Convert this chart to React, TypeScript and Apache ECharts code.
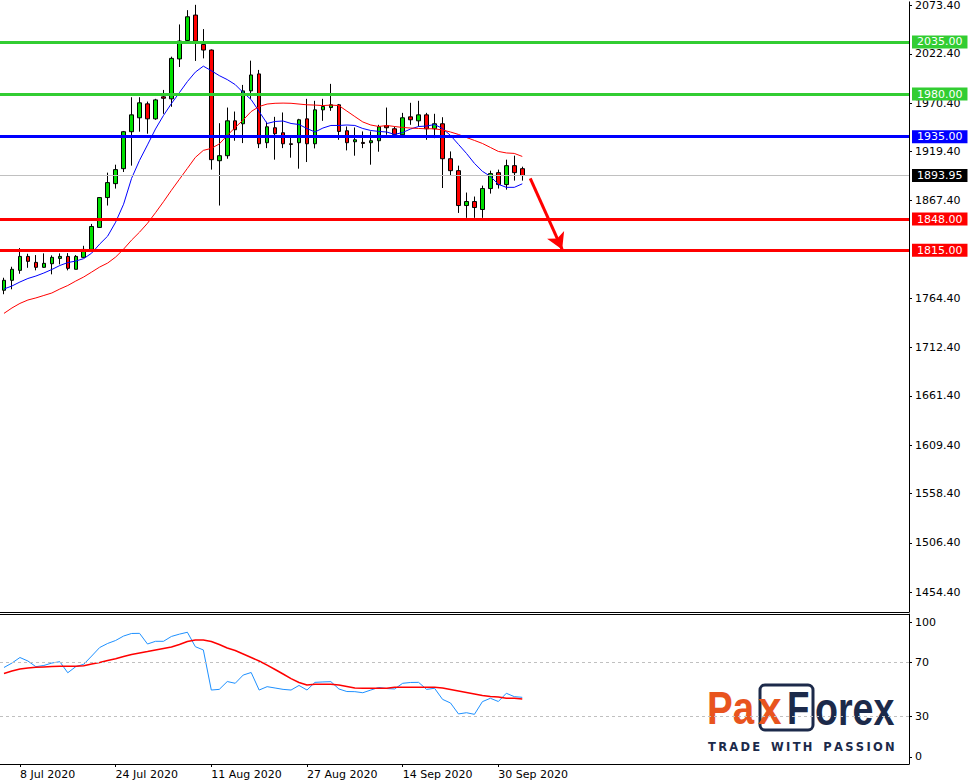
import React, { useEffect, useRef } from "react";
import * as echarts from "echarts";

// ---------- DATA ----------
const tradingDays = [
  "6 Jul 2020", "7 Jul 2020", "8 Jul 2020", "9 Jul 2020", "10 Jul 2020",
  "13 Jul 2020", "14 Jul 2020", "15 Jul 2020", "16 Jul 2020", "17 Jul 2020",
  "20 Jul 2020", "21 Jul 2020", "22 Jul 2020", "23 Jul 2020", "24 Jul 2020",
  "27 Jul 2020", "28 Jul 2020", "29 Jul 2020", "30 Jul 2020", "31 Jul 2020",
  "3 Aug 2020", "4 Aug 2020", "5 Aug 2020", "6 Aug 2020", "7 Aug 2020",
  "10 Aug 2020", "11 Aug 2020", "12 Aug 2020", "13 Aug 2020", "14 Aug 2020",
  "17 Aug 2020", "18 Aug 2020", "19 Aug 2020", "20 Aug 2020", "21 Aug 2020",
  "24 Aug 2020", "25 Aug 2020", "26 Aug 2020", "27 Aug 2020", "28 Aug 2020",
  "31 Aug 2020", "1 Sep 2020", "2 Sep 2020", "3 Sep 2020", "4 Sep 2020",
  "7 Sep 2020", "8 Sep 2020", "9 Sep 2020", "10 Sep 2020", "11 Sep 2020",
  "14 Sep 2020", "15 Sep 2020", "16 Sep 2020", "17 Sep 2020", "18 Sep 2020",
  "21 Sep 2020", "22 Sep 2020", "23 Sep 2020", "24 Sep 2020", "25 Sep 2020",
  "28 Sep 2020", "29 Sep 2020", "30 Sep 2020", "1 Oct 2020", "2 Oct 2020",
  "5 Oct 2020",
];
const dateLabels = ["8 Jul 2020", "24 Jul 2020", "11 Aug 2020", "27 Aug 2020", "14 Sep 2020", "30 Sep 2020"];

const opens = [
  1772.9, 1783.4, 1793.9, 1808.6, 1802.3, 1797.1, 1800.9, 1806.5, 1808.6, 1795.0,
  1807.6, 1816.0, 1839.2, 1870.7, 1885.4, 1901.2, 1940.2, 1954.9, 1969.6, 1953.8,
  1977.0, 1974.9, 2017.0, 2036.5, 2063.3, 2032.3, 2026.4, 1909.6, 1914.9, 1951.7,
  1948.6, 1983.3, 2001.2, 1928.6, 1944.4, 1939.1, 1927.5, 1928.6, 1953.8, 1927.5,
  1963.3, 1965.7, 1968.6, 1941.2, 1929.6, 1928.9, 1928.6, 1930.7, 1946.5, 1943.3,
  1937.0, 1955.9, 1951.7, 1958.0, 1943.3, 1948.6, 1911.7, 1899.1, 1862.3, 1866.5,
  1858.1, 1880.2, 1897.0, 1884.4, 1904.4, 1901.2,
];
const closes = [
  1783.4, 1795.0, 1808.6, 1803.4, 1797.1, 1801.3, 1807.6, 1808.6, 1796.0, 1808.6,
  1816.0, 1840.2, 1870.7, 1886.5, 1900.2, 1940.2, 1958.0, 1970.7, 1953.8, 1973.8,
  1975.5, 2017.6, 2035.9, 2061.5, 2035.9, 2026.4, 1910.7, 1914.9, 1951.7, 1942.3,
  1983.3, 2000.1, 1927.5, 1945.4, 1938.1, 1927.5, 1926.8, 1952.8, 1927.5, 1963.3,
  1966.8, 1968.6, 1940.5, 1928.6, 1931.7, 1927.8, 1930.7, 1945.4, 1944.4, 1937.3,
  1954.9, 1952.8, 1958.0, 1943.3, 1948.6, 1911.7, 1899.1, 1862.3, 1866.5, 1860.2,
  1880.2, 1896.0, 1884.4, 1904.4, 1897.0, 1893.95,
];
const lows = [
  1768.7, 1773.9, 1790.3, 1796.6, 1793.9, 1796.6, 1789.7, 1800.2, 1793.9, 1795.0,
  1807.4, 1816.0, 1838.9, 1862.3, 1880.2, 1897.7, 1904.4, 1940.2, 1938.1, 1952.8,
  1959.1, 1966.5, 2008.5, 2035.9, 2014.9, 2017.6, 1900.2, 1862.3, 1911.7, 1930.7,
  1928.2, 1974.9, 1922.9, 1922.9, 1910.7, 1922.9, 1912.8, 1901.2, 1908.2, 1922.6,
  1951.7, 1962.2, 1931.7, 1920.5, 1914.9, 1922.9, 1905.4, 1919.1, 1937.0, 1935.9,
  1937.0, 1947.5, 1945.7, 1931.7, 1933.4, 1880.8, 1893.9, 1854.5, 1849.3, 1849.3,
  1849.3, 1874.9, 1880.2, 1879.1, 1888.6, 1888.6,
];
const highs = [
  1786.1, 1797.7, 1817.4, 1811.4, 1810.0, 1811.8, 1809.7, 1811.8, 1812.1, 1810.0,
  1819.8, 1842.9, 1871.0, 1897.0, 1905.4, 1941.0, 1976.6, 1976.6, 1972.0, 1974.9,
  1984.3, 2019.4, 2053.4, 2068.5, 2074.1, 2048.5, 2027.0, 1949.2, 1965.7, 1961.5,
  1989.6, 2015.2, 2005.4, 1950.7, 1955.9, 1960.5, 1935.9, 1953.8, 1974.9, 1972.8,
  1974.9, 1990.7, 1969.5, 1945.7, 1944.7, 1940.5, 1940.5, 1947.5, 1965.7, 1945.7,
  1960.1, 1970.7, 1972.8, 1960.1, 1959.1, 1955.5, 1919.4, 1904.4, 1876.0, 1871.8,
  1883.3, 1899.1, 1900.2, 1910.7, 1914.9, 1903.3,
];
const maFast = [
  1774.2, 1777.4, 1781.6, 1785.3, 1787.9, 1791.1, 1794.8, 1799.0, 1802.1, 1803.7,
  1806.3, 1812.1, 1821.6, 1830.0, 1844.7, 1863.7, 1891.0, 1910.0, 1926.3, 1943.1,
  1957.3, 1969.9, 1981.5, 1993.1, 2003.1, 2009.4, 2004.6, 1999.4, 1995.2, 1989.9,
  1981.5, 1974.1, 1961.5, 1948.9, 1951.0, 1951.5, 1948.9, 1947.8, 1943.6, 1939.9,
  1944.1, 1946.8, 1946.8, 1947.3, 1946.8, 1943.6, 1941.5, 1940.5, 1939.9, 1937.3,
  1939.4, 1943.1, 1945.7, 1946.2, 1947.8, 1943.6, 1936.3, 1926.8, 1917.3, 1906.8,
  1898.4, 1893.1, 1884.7, 1881.5, 1881.5, 1885.2,
];
const maSlow = [
  1748.5, 1754.2, 1759.0, 1762.6, 1764.8, 1767.4, 1770.0, 1774.2, 1777.9, 1782.6,
  1786.9, 1792.1, 1797.4, 1801.6, 1807.9, 1816.3, 1825.8, 1834.2, 1843.6, 1854.7,
  1866.3, 1878.4, 1890.0, 1901.5, 1913.1, 1920.5, 1922.6, 1927.3, 1936.3, 1944.7,
  1952.6, 1961.5, 1966.8, 1969.4, 1970.2, 1970.4, 1970.2, 1969.4, 1968.6, 1968.3,
  1967.8, 1968.3, 1967.8, 1962.0, 1956.2, 1950.5, 1947.3, 1945.7, 1946.8, 1945.7,
  1944.7, 1944.1, 1943.6, 1943.3, 1943.3, 1942.0, 1939.9, 1937.3, 1934.1, 1931.0,
  1927.8, 1923.6, 1919.4, 1917.8, 1917.3, 1914.1,
];
const rsi = [
  66.3, 69.6, 73.7, 71.1, 66.9, 67.8, 69.6, 70.6, 62.4, 66.9,
  68.7, 74.8, 81.1, 84.1, 86.3, 89.6, 91.5, 91.6, 83.7, 85.7,
  85.7, 89.3, 91.0, 92.4, 81.7, 79.3, 49.6, 50.1, 55.9, 54.6,
  60.7, 62.6, 49.6, 52.1, 51.1, 50.1, 49.6, 53.0, 49.6, 55.3,
  55.6, 55.8, 50.4, 48.5, 48.4, 47.6, 49.6, 51.5, 50.7, 50.4,
  54.6, 55.2, 55.3, 50.1, 50.9, 42.7, 40.0, 31.9, 32.8, 31.6,
  41.0, 43.5, 41.1, 47.2, 44.7, 44.2,
];
const rsiSignal = [
  61.9, 63.7, 65.2, 65.9, 66.4, 66.7, 67.0, 67.2, 67.2, 67.3,
  67.6, 68.9, 70.0, 71.5, 72.8, 74.4, 75.9, 77.0, 78.1, 79.3,
  80.4, 81.5, 83.3, 85.6, 86.7, 86.7, 85.6, 83.3, 80.7, 78.9,
  76.3, 73.7, 71.1, 68.1, 64.8, 61.5, 58.1, 55.2, 53.3, 53.9,
  53.9, 53.9, 53.3, 52.2, 51.1, 50.9, 50.9, 50.9, 50.9, 51.6,
  51.6, 51.6, 51.6, 51.6, 51.6, 51.1, 50.0, 48.9, 47.8, 46.7,
  45.6, 44.8, 44.4, 43.5, 43.5, 43.0,
];
const priceTicks = [2073.4, 2022.4, 1970.4, 1919.4, 1867.4, 1764.4, 1712.4, 1661.4, 1609.4, 1558.4, 1506.4, 1454.4];
const rsiTicks = [0, 30, 70, 100];
const rsiLevels = [70, 30];
const levelValues = [2035, 1980, 1935, 1848, 1815];
const levelKinds = ["resistance", "resistance", "pivot", "support", "support"];
const lastPrice = 1893.95;
const arrowFrom = [66, 1891];
const arrowTo = [70, 1816];
const TOTAL_SLOTS = 114;

// ---------- CHART ----------
const FONT = "DejaVu Sans";
const kindColor: Record<string, string> = { resistance: "#32CD32", pivot: "#0000FF", support: "#FF0000" };

export default function App() {
  const ref = useRef<HTMLDivElement>(null);
  useEffect(() => {
    document.body.style.margin = "0";
    if (!ref.current) return;
    const chart = echarts.init(ref.current, undefined, { renderer: "svg" });

    const categories = tradingDays.slice();
    for (let i = tradingDays.length; i < TOTAL_SLOTS; i++) categories.push(`slot-${i}`);
    const showDate = (_i: number, v: string) => dateLabels.indexOf(v) >= 0;
    const candles = opens.map((o, i) => [o, closes[i], lows[i], highs[i]]);

    const levelLines = levelValues.map((v, i) => {
      const c = kindColor[levelKinds[i]];
      return {
        yAxis: v,
        lineStyle: { color: c, width: 3, type: "solid" },
        label: {
          show: true, position: "end", distance: 3, formatter: () => v.toFixed(2),
          color: "#fff", backgroundColor: c, padding: [1, 5, 0, 5], fontSize: 11, lineHeight: 12, fontFamily: FONT,
        },
      };
    });

    const navy = "#1C2A4A";
    const orange = "#E8541E";
    const logoFont = 'bold 47px "Liberation Sans"';
    const tagline = "TRADE WITH PASSION".split(" ").map((w) => w.split("").join("\u2009")).join("\u2009 \u2009\u2009");
    const txt = (text: string, x: number, fill: string, sx: number) => ({
      type: "text", x, y: 708, scaleX: sx,
      style: { text, fill, font: logoFont, align: "left", verticalAlign: "middle", textAlign: "left", textVerticalAlign: "middle" },
    });

    const option: any = {
      animation: false,
      backgroundColor: "#fff",
      textStyle: { fontFamily: FONT },
      grid: [
        { left: -3, right: 65, top: 0, height: 612 },
        { left: -3, right: 65, top: 614, height: 150 },
      ],
      xAxis: [
        {
          type: "category", gridIndex: 0, data: categories, boundaryGap: true,
          axisLine: { show: true, onZero: false, lineStyle: { color: "#000", width: 1 } },
          axisTick: { show: false }, axisLabel: { show: false }, splitLine: { show: false },
        },
        {
          type: "category", gridIndex: 1, data: categories, boundaryGap: true,
          axisLine: { show: true, onZero: false, lineStyle: { color: "#000", width: 1 } },
          axisTick: { show: true, alignWithLabel: true, interval: showDate, length: 3, lineStyle: { color: "#000" } },
          axisLabel: { interval: showDate, align: "left", color: "#000", fontSize: 11, margin: 5, fontFamily: FONT },
          splitLine: { show: false },
        },
        {
          type: "category", gridIndex: 1, data: categories, position: "top", boundaryGap: true,
          axisLine: { show: true, onZero: false, lineStyle: { color: "#000", width: 1 } },
          axisTick: { show: false }, axisLabel: { show: false }, splitLine: { show: false },
        },
      ],
      yAxis: [
        {
          type: "value", gridIndex: 0, position: "right", min: 1433.35, max: 2077.24, scale: true,
          axisLine: { show: true, lineStyle: { color: "#000", width: 1 } },
          axisTick: { show: true, inside: false, length: 3, customValues: priceTicks, lineStyle: { color: "#000" } },
          axisLabel: { customValues: priceTicks, formatter: (v: number) => v.toFixed(2), color: "#000", fontSize: 11, margin: 6, fontFamily: FONT },
          splitLine: { show: false },
        },
        {
          type: "value", gridIndex: 1, position: "right", min: -5.19, max: 105.93,
          axisLine: { show: true, lineStyle: { color: "#000", width: 1 } },
          axisTick: { show: true, inside: false, length: 3, customValues: rsiTicks, lineStyle: { color: "#000" } },
          axisLabel: { customValues: rsiTicks, formatter: (v: number) => String(Math.round(v)), color: "#000", fontSize: 11, margin: 6, fontFamily: FONT },
          splitLine: { show: false },
        },
      ],
      series: [
        {
          type: "candlestick", xAxisIndex: 0, yAxisIndex: 0, data: candles, barWidth: 4,
          itemStyle: { color: "#00E000", color0: "#FF0000", borderColor: "#000", borderColor0: "#000", borderWidth: 1 },
          markLine: {
            silent: true, symbol: ["none", "none"], animation: false,
            data: [{
              yAxis: lastPrice,
              lineStyle: { color: "#C0C0C0", width: 1, type: "solid" },
              label: {
                show: true, position: "end", distance: 3, formatter: () => lastPrice.toFixed(2),
                color: "#fff", backgroundColor: "#000", padding: [1, 5, 0, 5], fontSize: 11, lineHeight: 12, fontFamily: FONT,
              },
            }],
          },
        },
        {
          type: "line", xAxisIndex: 0, yAxisIndex: 0, data: maFast, symbol: "none", showSymbol: false,
          lineStyle: { color: "#0000FF", width: 1 }, silent: true,
        },
        {
          type: "line", xAxisIndex: 0, yAxisIndex: 0, data: maSlow, symbol: "none", showSymbol: false,
          lineStyle: { color: "#FF0000", width: 1 }, silent: true,
          markLine: {
            silent: true, symbol: ["none", "none"], animation: false,
            data: [
              ...levelLines,
              [
                { coord: arrowFrom, symbol: "none", lineStyle: { color: "#FF0000", width: 3, type: "solid" }, label: { show: false } },
                { coord: arrowTo, symbol: "arrow", symbolSize: [14, 16] },
              ],
            ],
          },
        },
        {
          type: "line", xAxisIndex: 1, yAxisIndex: 1, data: rsi, symbol: "none", showSymbol: false,
          lineStyle: { color: "#1E90FF", width: 1 }, silent: true,
          markLine: {
            silent: true, symbol: ["none", "none"], animation: false, label: { show: false },
            lineStyle: { color: "#C0C0C0", width: 1, type: [3, 3] },
            data: rsiLevels.map((v) => ({ yAxis: v })),
          },
        },
        {
          type: "line", xAxisIndex: 1, yAxisIndex: 1, data: rsiSignal, symbol: "none", showSymbol: false,
          lineStyle: { color: "#FF0000", width: 1.5 }, silent: true,
        },
      ],
      graphic: [
        txt("Pa", 707, orange, 0.82),
        { type: "rect", shape: { x: 760, y: 685, width: 53, height: 45, r: 5 }, style: { fill: "none", stroke: navy, lineWidth: 3 } },
        txt("x", 758, orange, 0.9),
        txt("F", 787, navy, 0.78),
        txt("orex", 815, navy, 0.8),
        { type: "text", x: 708, y: 747, style: { text: tagline, fill: navy, font: `bold 11.5px "${FONT}"`, align: "left", verticalAlign: "middle", textAlign: "left", textVerticalAlign: "middle" } },
      ],
    };
    chart.setOption(option);
    return () => chart.dispose();
  }, []);
  return <div ref={ref} style={{ width: 974, height: 782 }} />;
}
